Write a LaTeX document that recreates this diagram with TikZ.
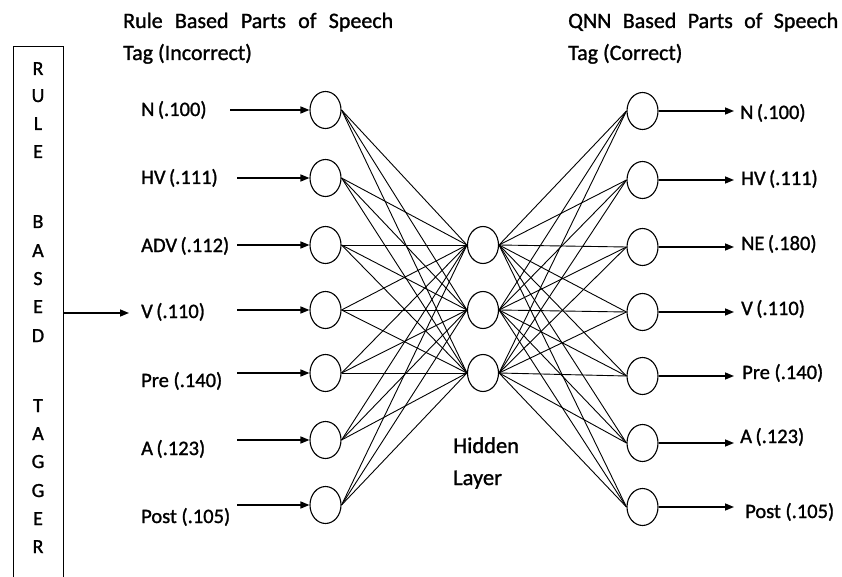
\documentclass[tikz,border=0pt]{standalone}
\usepackage{fontspec}
\setmainfont{Carlito}[FakeBold=1.2]
\usetikzlibrary{arrows.meta,shapes.geometric}
\begin{document}
\begin{tikzpicture}[x=1pt,y=-1pt,
 neuron/.style={draw, ellipse, minimum width=31pt, minimum height=37pt, inner sep=0pt, line width=1.1pt},
 lbl/.style={anchor=base west, inner sep=0pt, font=\fontsize{20.5}{24}\selectfont},
 ttl/.style={anchor=base west, inner sep=0pt, font=\fontsize{22}{26}\selectfont},
 letter/.style={anchor=base, inner sep=0pt, font=\fontsize{20}{24}\selectfont},
 hid/.style={anchor=base west, inner sep=0pt, font=\fontsize{22.5}{26}\selectfont},
 arr/.style={-{Triangle[length=9pt,width=7pt]}, line width=1.5pt},
 wire/.style={line width=0.9pt}]
\useasboundingbox (0,0) rectangle (842,577);

% titles
\node[ttl] (t1a) at (123,28) {\makebox[270pt][s]{Rule Based Parts of Speech}};
\node[ttl] (t1b) at (123,60) {Tag (Incorrect)};
\node[ttl] (t2a) at (568,28) {\makebox[270pt][s]{QNN Based Parts of Speech}};
\node[ttl] (t2b) at (568,60) {Tag (Correct)};

% tagger box
\node[draw, line width=1pt, minimum width=50pt, minimum height=560pt, inner sep=0pt] (tagger) at (38,327) {};
\foreach \k/\c/\b in {1/R/75, 2/U/102, 3/L/130, 4/E/158, 5/B/228, 6/A/257, 7/S/285, 8/E/313, 9/D/342, 10/T/412, 11/A/440, 12/G/468, 13/G/497, 14/E/525, 15/R/553}
  \node[letter] (let\k) at (38,\b) {\c};
\coordinate (tagin) at (129,313);
\draw[arr] (tagger.east |- tagin) -- (tagin);

% input layer
\foreach \n/\y/\b/\s/\t in {1/110/116/230/{N\,(.100)}, 2/178/184/237/{HV\,(.111)}, 3/245/252/237/{ADV\,(.112)}, 4/310/318/237/{V\,(.110)}, 5/373/387/237/{Pre (.140)}, 6/440/455/237/{A\,(.123)}, 7/505/523/237/{Post (.105)}}{
  \node[neuron] (i\n) at (325.5,\y) {};
  \node[lbl] (il\n) at (141,\b) {\t};
  \coordinate (is\n) at (\s,\y);
  \draw[arr] (is\n) -- (i\n.west);
}

% hidden layer
\foreach \n/\y in {1/245, 2/310, 3/373}
  \node[neuron] (h\n) at (483,\y) {};
\node[hid] (hl1) at (453,453) {Hidden};
\node[hid] (hl2) at (453,485) {Layer};

% output layer
\foreach \n/\y/\b/\x/\t in {1/111/119/740/{N\,(.100)}, 2/180/185/741/{HV\,(.111)}, 3/247/250/741/{NE\,(.180)}, 4/312/315/741/{V\,(.110)}, 5/376/379/742/{Pre (.140)}, 6/443/443/740/{A\,(.123)}, 7/507/518/745/{Post (.105)}}{
  \node[neuron] (o\n) at (642.5,\y) {};
  \node[lbl] (ol\n) at (\x,\b) {\t};
  \coordinate (oe\n) at (734,\y);
  \draw[arr] (o\n.east) -- (oe\n);
}

% connections
\foreach \i in {1,...,7}
  \foreach \h in {1,2,3}{
    \draw[wire] (i\i.east) -- (h\h.west);
    \draw[wire] (h\h.east) -- (o\i.west);
  }
\end{tikzpicture}
\end{document}
